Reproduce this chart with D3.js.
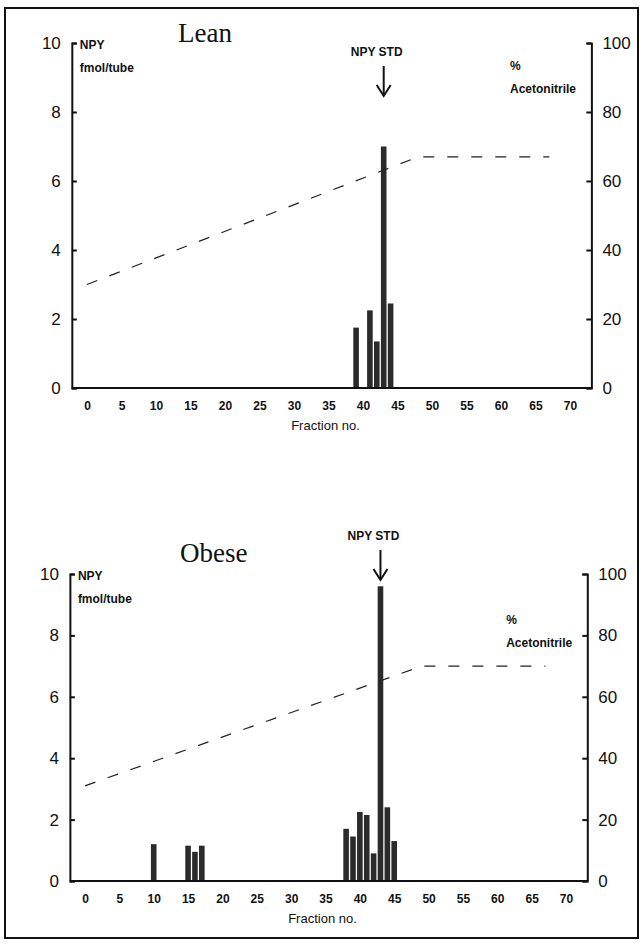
<!DOCTYPE html>
<html><head><meta charset="utf-8">
<script src="https://cdn.jsdelivr.net/npm/d3@7"></script>
<style>
body{margin:0;background:#fff;}
svg{display:block;}
</style></head>
<body>
<svg id="c" width="642" height="944"></svg>
<script>
// ---- data ----
const fractionTicks = [0,5,10,15,20,25,30,35,40,45,50,55,60,65,70];
const npyTicks = [0,2,4,6,8,10];
const acnTicks = [0,20,40,60,80,100];
const leanFractions = [39,41,42,43,44];
const leanNPY = [1.75,2.25,1.35,7.0,2.45];
const obeseFractions = [10,15,16,17,38,39,40,41,42,43,44,45];
const obeseNPY = [1.2,1.15,0.95,1.15,1.7,1.45,2.25,2.15,0.9,9.6,2.4,1.3];
const leanGradientFractions = [0,48,67];
const leanGradientACN = [30,67,67];
const obeseGradientFractions = [0,49,67];
const obeseGradientACN = [31,70,70];
const stdFraction = 43;

const svg = d3.select("#c");
// outer frame
svg.append("rect").attr("x",5).attr("y",8).attr("width",633).attr("height",930)
  .attr("fill","none").attr("stroke","#111").attr("stroke-width",2);

function panel(cfg){
  const g = svg.append("g");
  const x = d3.scaleLinear().domain([0,70]).range([cfg.x0,cfg.x70]);
  const y = d3.scaleLinear().domain([0,10]).range([cfg.yb,cfg.yt]);
  const yr = d3.scaleLinear().domain([0,100]).range([cfg.yb,cfg.yt]);
  const xl = x(-2.2), xr = x(73.1);
  const ff = "Liberation Sans, Arial, sans-serif";

  // bars
  const bw = 5.6;
  g.selectAll("rect.bar").data(cfg.fr.map((f,i)=>({f,v:cfg.v[i]}))).enter()
    .append("rect").attr("class","bar")
    .attr("x",d=>x(d.f)-bw/2).attr("width",bw)
    .attr("y",d=>y(d.v)).attr("height",d=>y(0)-y(d.v))
    .attr("fill","#2b2b2b");

  // gradient dashed line
  const line = d3.line().x(d=>x(d[0])).y(d=>yr(d[1]));
  g.append("path").datum(cfg.gf.map((f,i)=>[f,cfg.ga[i]]))
    .attr("d",line).attr("fill","none").attr("stroke","#222")
    .attr("stroke-width",1.2).attr("stroke-dasharray","11,13");

  // left axis
  const la = d3.axisLeft(y).tickValues(npyTicks).tickSizeInner(-5).tickSizeOuter(-5).tickPadding(11)
    .tickFormat(d3.format("d"));
  const lg = g.append("g").attr("transform",`translate(${xl},0)`).call(la);
  lg.selectAll("path,line").attr("stroke","#111").attr("stroke-width",2);
  lg.selectAll("text").attr("font-family",ff).attr("font-size",17).attr("fill","#111");

  // right axis
  const ra = d3.axisRight(yr).tickValues(acnTicks).tickSizeInner(-5).tickSizeOuter(-5).tickPadding(11)
    .tickFormat(d3.format("d"));
  const rg = g.append("g").attr("transform",`translate(${xr},0)`).call(ra);
  rg.selectAll("path,line").attr("stroke","#111").attr("stroke-width",2);
  rg.selectAll("text").attr("font-family",ff).attr("font-size",17).attr("fill","#111");

  // baseline
  g.append("line").attr("x1",xl).attr("x2",xr).attr("y1",y(0)).attr("y2",y(0))
    .attr("stroke","#111").attr("stroke-width",2.2);

  // x axis labels
  const xa = d3.axisBottom(x).tickValues(fractionTicks).tickSize(0).tickPadding(13);
  const xg = g.append("g").attr("transform",`translate(0,${y(0)})`).call(xa);
  xg.select(".domain").remove();
  xg.selectAll("text").attr("font-family",ff).attr("font-size",12)
    .attr("font-weight","bold").attr("fill","#111");

  g.append("text").attr("x",(x(0)+x(70))/2-3).attr("y",y(0)+42).attr("text-anchor","middle")
    .attr("font-family",ff).attr("font-size",13).attr("fill","#111").text("Fraction no.");

  g.append("text").attr("x",xl+8).attr("y",cfg.yt+6).attr("font-family",ff).attr("font-size",12)
    .attr("font-weight","bold").attr("fill","#111").text("NPY");
  g.append("text").attr("x",xl+8).attr("y",cfg.yt+29).attr("font-family",ff).attr("font-size",12)
    .attr("font-weight","bold").attr("fill","#111").text("fmol/tube");
  g.append("text").attr("x",x(61.3)).attr("y",cfg.yt+cfg.pctDy).attr("font-family",ff).attr("font-size",12)
    .attr("font-weight","bold").attr("fill","#111").text("%");
  g.append("text").attr("x",x(61.3)).attr("y",cfg.yt+cfg.pctDy+23).attr("font-family",ff).attr("font-size",12)
    .attr("font-weight","bold").attr("fill","#111").text("Acetonitrile");

  // title
  g.append("text").attr("x",cfg.titleX).attr("y",cfg.titleY)
    .attr("font-family","Liberation Serif, Times New Roman, serif").attr("font-size",27)
    .attr("fill","#111").text(cfg.title);

  // NPY STD + arrow
  const ax = x(stdFraction);
  g.append("text").attr("x",ax-7).attr("y",cfg.stdY).attr("text-anchor","middle")
    .attr("font-family",ff).attr("font-size",12).attr("font-weight","bold").attr("fill","#111").text("NPY STD");
  g.append("line").attr("x1",ax).attr("x2",ax).attr("y1",cfg.stdY+10).attr("y2",cfg.stdY+40)
    .attr("stroke","#111").attr("stroke-width",2);
  g.append("path").attr("d",`M${ax-7},${cfg.stdY+29}L${ax},${cfg.stdY+40}L${ax+7},${cfg.stdY+29}`)
    .attr("fill","none").attr("stroke","#111").attr("stroke-width",2);
}

panel({title:"Lean",titleX:178,titleY:42,x0:87,x70:570,yb:388,yt:43,fr:leanFractions,v:leanNPY,
  gf:leanGradientFractions,ga:leanGradientACN,stdY:56,pctDy:27});
panel({title:"Obese",titleX:180,titleY:562,x0:85,x70:566,yb:881,yt:574,fr:obeseFractions,v:obeseNPY,
  gf:obeseGradientFractions,ga:obeseGradientACN,stdY:540,pctDy:50});
</script>
</body></html>
